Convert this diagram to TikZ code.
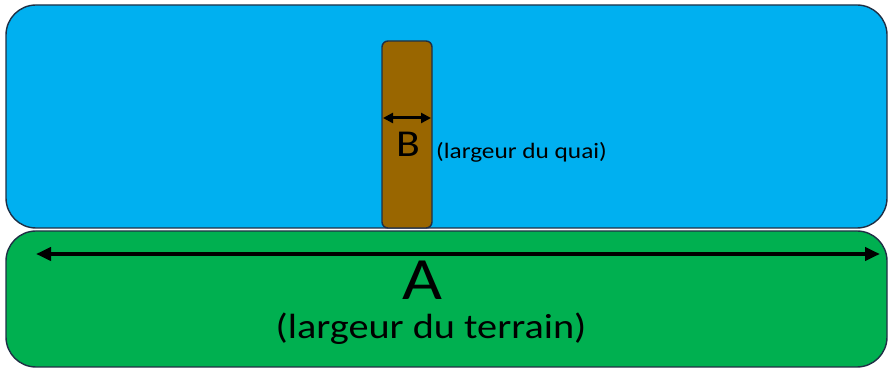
\documentclass[tikz,border=0pt]{standalone}
\usepackage{fontspec}
\setmainfont{Carlito}
\usetikzlibrary{arrows.meta}
\definecolor{water}{HTML}{00B0F0}
\definecolor{land}{HTML}{00B050}
\definecolor{quay}{HTML}{996600}
\definecolor{edge}{HTML}{1F2F45}
\tikzset{
  zone/.style={draw=edge, line width=1.4pt, rounded corners=30pt},
  dim/.style={line width=4pt, {Triangle[width=13pt,length=15pt]}-{Triangle[width=13pt,length=15pt]}},
  smalldim/.style={line width=3pt, {Triangle[width=10pt,length=10pt]}-{Triangle[width=10pt,length=10pt]}},
  lbl/.style={inner sep=0pt},
}
\newcommand{\wide}[1]{\scalebox{1.15}[1]{#1}}
\begin{document}
\begin{tikzpicture}[x=1pt,y=1pt]
\useasboundingbox (0,0) rectangle (888,369);
% water
\filldraw[zone, fill=water] (6,141) rectangle (887,364);
% land
\filldraw[zone, fill=land] (6,2) rectangle (887,138);
% quay
\filldraw[draw=edge, line width=1.4pt, rounded corners=6pt, fill=quay] (382,141) rectangle (432,328);
\coordinate (b1) at (383,251);
\coordinate (b2) at (431,251);
\draw[smalldim] (b1) -- (b2);
\node[lbl] (B) at (408,224.5) {\wide{\fontsize{38}{38}\selectfont B}};
\node[lbl, anchor=west] (Bl) at (436,217) {\wide{\fontsize{22}{22}\selectfont (largeur du quai)}};
\coordinate (a1) at (36,115);
\coordinate (a2) at (880,115);
\draw[dim] (a1) -- (a2);
\node[lbl] (A) at (422,89) {\wide{\fontsize{60}{60}\selectfont A}};
\node[lbl] (Al) at (431,40) {\wide{\fontsize{35}{35}\selectfont (largeur du terrain)}};
\end{tikzpicture}
\end{document}
